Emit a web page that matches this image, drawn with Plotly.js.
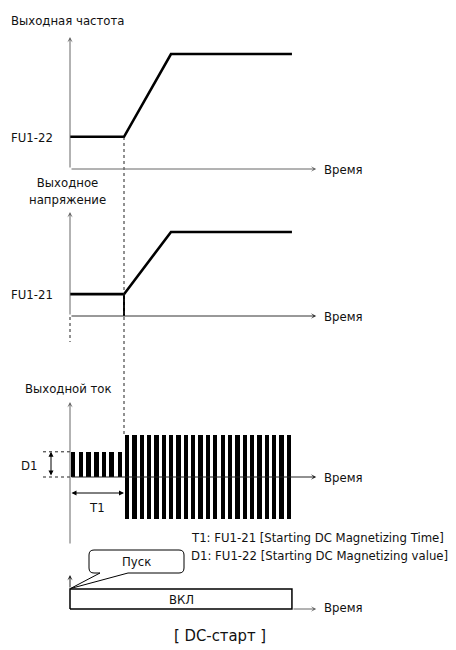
<!DOCTYPE html>
<html>
<head>
<meta charset="utf-8">
<script src="https://cdn.plot.ly/plotly-3.0.1.min.js"></script>
<style>html,body{margin:0;padding:0;background:#fff}#chart{width:456px;height:650px}</style>
</head>
<body>
<div id="chart"></div>
<script>
// ---- data (time unit: T1 = 1) ----
const freqT = [0, 1, 1.87, 4.11];
const freqV = [0.28, 0.28, 1, 1];
const voltT = [0, 1, 1.87, 4.11];
const voltV = [0.26, 0.26, 1, 1];
const voltStepT = [1, 1];
const voltStepV = [0, 0.26];
const dcPulseT = [0.06, 0.2, 0.34, 0.49, 0.63, 0.77, 0.92];
const dcPulseV = [0.6, 0.6, 0.6, 0.6, 0.6, 0.6, 0.6];
const pwmPulseT = [1.056, 1.193, 1.328, 1.465, 1.6, 1.737, 1.874, 2.009, 2.146, 2.281, 2.419, 2.556,
                   2.691, 2.828, 2.963, 3.1, 3.237, 3.372, 3.509, 3.644, 3.781, 3.919, 4.054];
const pwmPulseV = pwmPulseT.map(() => 1);
const runT = [0, 0, 4.11, 4.11, 0];
const runV = [0, 1, 1, 0, 0];
const T1 = 1;
const D1 = 0.6;
const timeAxisEnd = 4.56;

// ---- texts ----
const panelTitles = ['Выходная частота', 'Выходное<br>напряжение', 'Выходной ток'];
const levelLabels = ['FU1-22', 'FU1-21'];
const timeLabel = 'Время';
const noteLines = ['T1: FU1-21 [Starting DC Magnetizing Time]', 'D1: FU1-22 [Starting DC Magnetizing value]'];
const runText = 'ВКЛ';
const bubbleText = 'Пуск';
const caption = '[ DC-старт ]';

// ---- layout geometry ----
const W = 456, H = 650;
const X0 = 70, PXU = 54;
const FONT = '"Liberation Sans Narrow", "DejaVu Sans Condensed", "Roboto", sans-serif';
const panels = [
  {b: 169, u: 115, T: 20, B: 180},
  {b: 316, u: 84, T: 200, B: 322},
  {b: 477, u: 42, T: 395, B: 552},
  {b: 609, u: 20, T: 540, B: 615}
];
const yNames = ['y', 'y2', 'y3', 'y4'];
const tx = p => (p - X0) / PXU;
const px = p => p / W;
const py = p => 1 - p / H;
const val = (i, pix) => (panels[i].b - pix) / panels[i].u;

function yax(p) {
  return {domain: [1 - p.B / H, 1 - p.T / H], range: [(p.b - p.B) / p.u, (p.b - p.T) / p.u],
          visible: false, fixedrange: true, showgrid: false, zeroline: false};
}
const AX = '#666';
function arrow(i, x0, y0, x1, y1, o) {
  const r = yNames[i];
  return Object.assign({xref: 'x', yref: r, axref: 'x', ayref: r, x: x1, y: y1, ax: x0, ay: y0,
    showarrow: true, text: '', arrowhead: 3, arrowsize: 0.9, arrowwidth: 1, arrowcolor: AX, standoff: 0, startstandoff: 0}, o || {});
}
function txt(s, x, y, anchor, size, extra) {
  return Object.assign({xref: 'paper', yref: 'paper', x: px(x), y: py(y), xanchor: anchor, yanchor: 'middle',
    text: s, showarrow: false, font: {family: FONT, size: size || 13, color: '#111'}}, extra || {});
}

const traces = [
  {x: freqT, y: freqV, xaxis: 'x', yaxis: 'y', mode: 'lines', line: {color: '#000', width: 2.6}},
  {x: voltT, y: voltV, xaxis: 'x', yaxis: 'y2', mode: 'lines', line: {color: '#000', width: 2.6}},
  {x: voltStepT, y: voltStepV, xaxis: 'x', yaxis: 'y2', mode: 'lines', line: {color: '#000', width: 2}},
  {type: 'bar', x: pwmPulseT, y: pwmPulseV.map(v => 2 * v), base: pwmPulseV.map(v => -v), width: 0.08,
   xaxis: 'x', yaxis: 'y3', marker: {color: '#000', line: {width: 0}}},
  {type: 'bar', x: dcPulseT, y: dcPulseV, base: 0, width: 0.08,
   xaxis: 'x', yaxis: 'y3', marker: {color: '#000', line: {width: 0}}},
  {x: runT, y: runV, xaxis: 'x', yaxis: 'y4', mode: 'lines', line: {color: '#000', width: 1.5}}
];

const annotations = [];
// axes
annotations.push(arrow(0, 0, 0, 0, val(0, 37)));
annotations.push(arrow(0, 0, 0, timeAxisEnd, 0));
annotations.push(arrow(1, 0, 0, 0, val(1, 212)));
annotations.push(arrow(1, 0, 0, timeAxisEnd, 0, {arrowcolor: '#333'}));
annotations.push(arrow(2, 0, val(2, 545), 0, val(2, 402)));
annotations.push(arrow(2, 0, 0, timeAxisEnd, 0, {arrowcolor: '#222'}));
annotations.push(arrow(3, 0, 1, 0, val(3, 575), {arrowcolor: '#222'}));
annotations.push(arrow(3, runT[2], 0, timeAxisEnd, 0));
// D1 / T1 dimension arrows
annotations.push(arrow(2, tx(51), 0, tx(51), D1, {arrowhead: 2, arrowside: 'end+start', arrowcolor: '#000', arrowsize: 1}));
annotations.push(arrow(2, 0, val(2, 493), T1, val(2, 493), {arrowhead: 2, arrowside: 'end+start', arrowcolor: '#000', arrowsize: 1}));
// texts
annotations.push(txt(panelTitles[0], 9, 20, 'left', 13));
annotations.push(txt(panelTitles[1], 67, 191, 'center', 13));
annotations.push(txt(panelTitles[2], 23, 388, 'left', 13));
annotations.push(txt(levelLabels[0], 9, 137, 'left', 13));
annotations.push(txt(levelLabels[1], 9, 294, 'left', 13));
annotations.push(txt('D1', 19, 465, 'left', 13));
annotations.push(txt('T1', 97, 507, 'center', 13));
[169, 316, 477, 607].forEach(y => annotations.push(txt(timeLabel, 322, y, 'left', 13)));
annotations.push(txt(noteLines[0], 189, 537, 'left', 13));
annotations.push(txt(noteLines[1], 189, 555, 'left', 13));
annotations.push(txt(runText, 181, 599, 'center', 13));
annotations.push(txt(bubbleText, 136, 561, 'center', 13));
annotations.push(txt(caption, 220, 635, 'center', 16.5));

// bubble path in panel-4 data coords
const bx = p => tx(p), by = p => val(3, p);
const P = (x, y) => bx(x) + ',' + by(y);
const bubblePath = 'M' + P(100, 573) + ' L' + P(70.5, 588.5) + ' L' + P(128, 573) + ' L' + P(179, 573) +
  ' Q' + P(184, 573) + ' ' + P(184, 568) + ' L' + P(184, 555) + ' Q' + P(184, 550) + ' ' + P(179, 550) +
  ' L' + P(94, 550) + ' Q' + P(89, 550) + ' ' + P(89, 555) + ' L' + P(89, 568) + ' Q' + P(89, 573) + ' ' + P(94, 573) + ' Z';

const shapes = [
  {type: 'line', xref: 'paper', yref: 'paper', x0: px(X0 + T1 * PXU), x1: px(X0 + T1 * PXU), y0: py(137), y1: py(435),
   line: {color: '#222', width: 1, dash: 'dot'}},
  {type: 'line', xref: 'paper', yref: 'paper', x0: px(X0), x1: px(X0), y0: py(317), y1: py(342),
   line: {color: '#222', width: 1, dash: 'dot'}},
  {type: 'line', xref: 'x', yref: 'y3', x0: tx(43), x1: 0, y0: D1, y1: D1, line: {color: '#222', width: 1, dash: 'dot'}},
  {type: 'line', xref: 'x', yref: 'y3', x0: tx(43), x1: 0, y0: 0, y1: 0, line: {color: '#222', width: 1, dash: 'dot'}},
  {type: 'path', xref: 'x', yref: 'y4', path: bubblePath, line: {color: '#000', width: 1}, fillcolor: '#fff'}
];

const layout = {
  width: W, height: H, autosize: false, showlegend: false,
  margin: {l: 0, r: 0, t: 0, b: 0, pad: 0},
  paper_bgcolor: '#fff', plot_bgcolor: 'rgba(0,0,0,0)',
  barmode: 'overlay', bargap: 0,
  xaxis: {domain: [0, 1], range: [tx(0), tx(W)], visible: false, fixedrange: true, showgrid: false, zeroline: false},
  yaxis: yax(panels[0]), yaxis2: yax(panels[1]), yaxis3: yax(panels[2]), yaxis4: yax(panels[3]),
  annotations: annotations, shapes: shapes,
  font: {family: FONT, size: 13, color: '#111'}
};
Plotly.newPlot('chart', traces, layout, {staticPlot: true, displayModeBar: false});
</script>
</body>
</html>
